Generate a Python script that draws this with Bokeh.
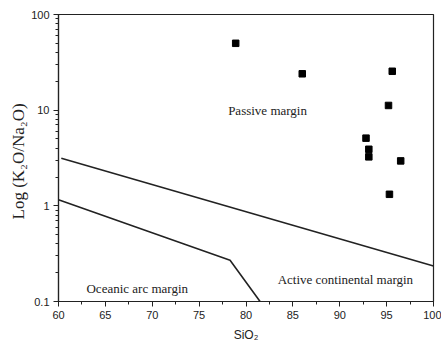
from bokeh.plotting import figure
from bokeh.embed import file_html
from bokeh.resources import INLINE
from bokeh.models import SingleIntervalTicker, CustomJSTickFormatter, Label, Title

# Sample data (SiO2 wt%, K2O/Na2O)
sio2 = [78.9, 86.0, 95.6, 95.2, 92.8, 93.1, 93.1, 96.5, 95.3]
k2o_na2o = [50.0, 24.0, 25.5, 11.2, 5.1, 3.9, 3.25, 2.95, 1.32]

# Field boundaries
upper_x = [60.3, 100.0]
upper_y = [3.15, 0.235]
lower_x = [60.0, 78.3, 81.5]
lower_y = [1.16, 0.27, 0.1]

field_labels = ["Passive margin", "Oceanic arc margin", "Active continental margin"]
x_title = "SiO₂"
y_title = "Log (K₂O/Na₂O)"

p = figure(width=441, height=347, output_backend="svg", toolbar_location=None,
           x_range=(60, 100), y_range=(0.1, 100), y_axis_type="log",
           min_border_left=58, min_border_right=8, min_border_top=14, min_border_bottom=46,
           background_fill_color="white", border_fill_color="white")

p.grid.visible = False
p.outline_line_color = "#222222"
p.outline_line_width = 1.2

p.line(upper_x, upper_y, line_color="#222222", line_width=1.6)
p.line(lower_x, lower_y, line_color="#222222", line_width=1.6)
p.scatter(sio2, k2o_na2o, marker="square", size=6.5, fill_color="black", line_color="black")

serif = "Liberation Serif"
for txt, lx, ly, fs in [(field_labels[0], 82.3, 9.9, "13px"),
                        (field_labels[1], 68.4, 0.138, "13px"),
                        (field_labels[2], 90.6, 0.168, "13px")]:
    p.add_layout(Label(x=lx, y=ly, text=txt, text_font=serif, text_font_size=fs,
                       text_align="center", text_baseline="middle", text_color="#222222"))

# y-axis title as a side title (rotated), shifted down like the reference
p.add_layout(Title(text=y_title, align="left", offset=82, text_font=serif,
                   text_font_size="17px", text_font_style="normal",
                   text_color="#222222", standoff=2), "left")

xa = p.xaxis[0]
xa.ticker = SingleIntervalTicker(interval=5, num_minor_ticks=2)
xa.axis_label = x_title
xa.axis_label_text_font = "Liberation Sans"
xa.axis_label_text_font_style = "normal"
xa.axis_label_text_font_size = "12px"
xa.axis_label_standoff = 6
xa.major_label_text_font = "Liberation Sans"
xa.major_label_text_font_size = "11px"
xa.major_label_standoff = 4

ya = p.yaxis[0]
ya.major_label_text_font = "Liberation Sans"
ya.major_label_text_font_size = "11px"
ya.major_label_standoff = 4
ya.formatter = CustomJSTickFormatter(code="return String(Math.round(tick*10)/10);")

for ax in (xa, ya):
    ax.axis_line_color = "#222222"
    ax.axis_line_width = 1.2
    ax.major_tick_line_color = "#222222"
    ax.minor_tick_line_color = "#222222"
    ax.major_tick_out = 5
    ax.major_tick_in = 0
    ax.minor_tick_out = 3
    ax.minor_tick_in = 0
    ax.major_label_text_color = "#222222"
    ax.axis_label_text_color = "#222222"

open("out.html", "w").write(file_html(p, INLINE))
